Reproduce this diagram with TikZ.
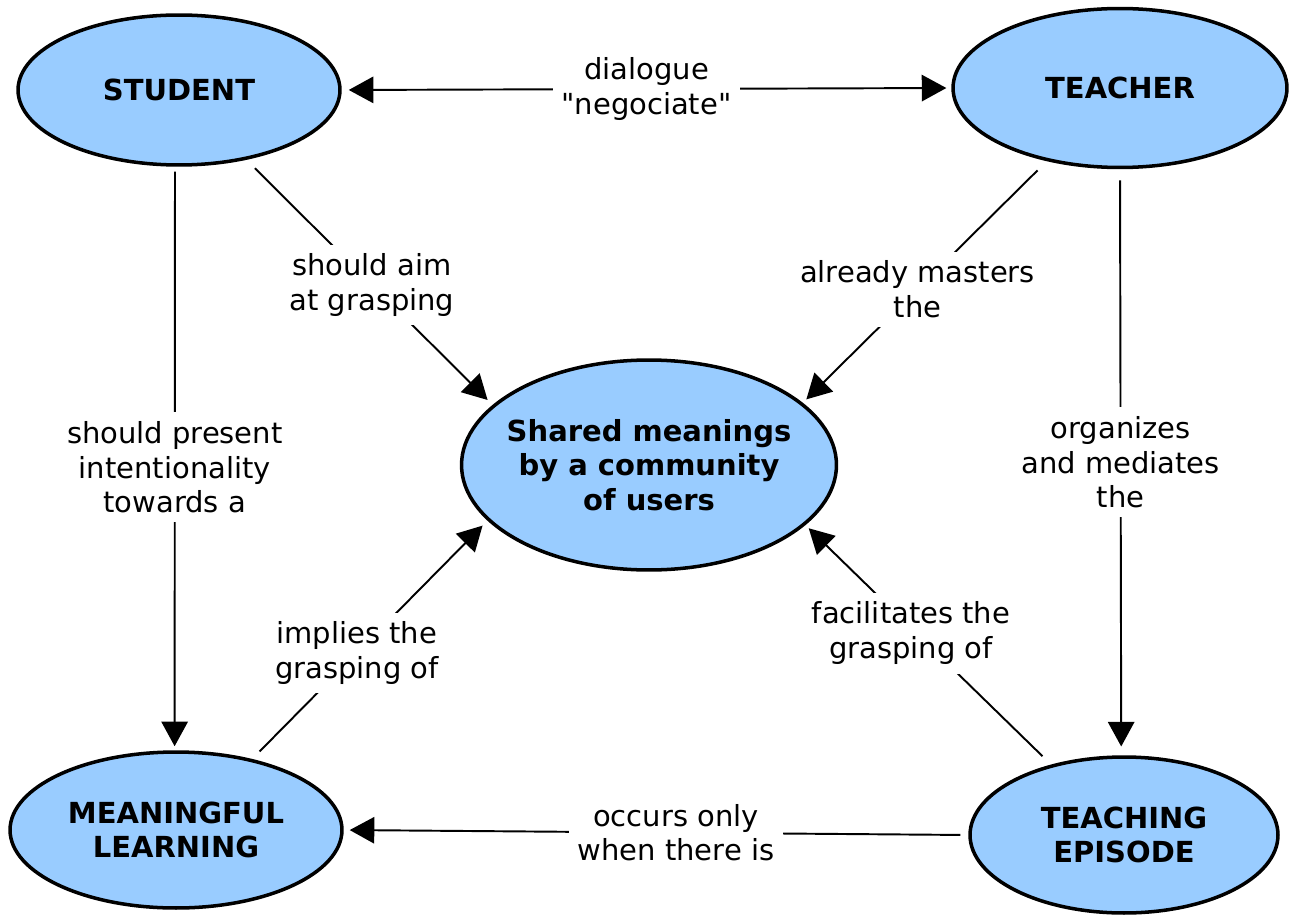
\documentclass[tikz,border=0pt]{standalone}
\usepackage{fontspec}
\setmainfont{DejaVu Sans}
\usetikzlibrary{shapes.geometric,arrows.meta}
\definecolor{conceptblue}{RGB}{153,204,255}

\begin{document}
\begin{tikzpicture}[x=0.02cm,y=-0.02cm,>={Triangle[length=14pt,width=15pt]},
		concept/.style={ellipse,draw=black,line width=2pt,fill=conceptblue,inner sep=-10pt,align=center,font=\fontsize{16.5}{19.5}\selectfont\bfseries},
		link/.style={fill=white,inner sep=5pt,align=center,font=\fontsize{16.5}{19.8}\selectfont},
		conn/.style={line width=1.1pt}]
		\useasboundingbox (0,0) rectangle (1290,915);
		\node[concept,minimum width=6.44cm,minimum height=3cm] (student) at (179,90) {STUDENT};
		\node[concept,minimum width=6.68cm,minimum height=3.18cm] (teacher) at (1120,88) {TEACHER};
		\node[concept,minimum width=7.5cm,minimum height=4.2cm] (shared) at (649,465) {Shared meanings\\by a community\\of users};
		\node[concept,minimum width=6.64cm,minimum height=3.12cm] (learning) at (176,830) {MEANINGFUL\\LEARNING};
		\node[concept,minimum width=6.16cm,minimum height=3.12cm] (episode) at (1124,835) {TEACHING\\EPISODE};
		\draw[conn,<->,shorten <=4pt,shorten >=2.8pt] (student.east) -- node[link] (dialogue) {dialogue\\\textquotedbl negociate\textquotedbl} (teacher.west);
		\draw[conn,->,shorten <=6.8pt,shorten >=4pt] (student.-46.3) -- node[link,pos=0.51] (aim) {should aim\\at grasping} (shared.159.7);
		\draw[conn,->,shorten <=7.4pt,shorten >=2.8pt] (teacher.-135.4) -- node[link,pos=0.53] (masters) {already masters\\the} (shared.22);
		\draw[conn,->,shorten <=2.8pt,shorten >=2.3pt] (student.-93) -- node[link,pos=0.515] (present) {should present\\intentionality\\towards a} (learning.91);
		\draw[conn,->,shorten <=6.3pt,shorten >=5pt] (teacher.south) -- node[link,pos=0.5] (organizes) {organizes\\and mediates\\the} (episode.92);
		\draw[conn,->,shorten <=6pt,shorten >=4pt] (learning.43.5) -- node[link,pos=0.445] (implies) {implies the\\grasping of} (shared.199.9);
		\draw[conn,->,shorten <=6.8pt,shorten >=2.6pt] (episode.136.9) -- node[link,pos=0.57,yshift=-3pt] (facilitates) {facilitates the\\grasping of} (shared.-21.2);
		\draw[conn,->,shorten <=4.5pt,shorten >=3.4pt] (episode.west) -- node[link,pos=0.468] (occurs) {occurs only\\when there is} (learning.east);
	\end{tikzpicture}
\end{document}
